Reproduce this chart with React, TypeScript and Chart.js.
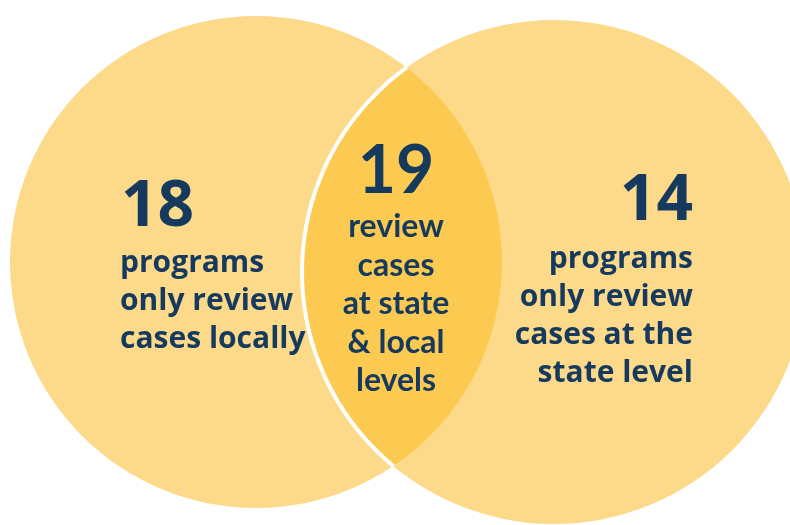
import React, { useEffect, useRef } from 'react';
import { Chart, registerables } from 'chart.js';

Chart.register(...registerables);

// ---- data ----
const setNames = ['Local only', 'State & local', 'State only'];
const setCounts = [18, 19, 14];
const leftLines = ['programs', 'only review', 'cases locally'];
const middleLines = ['review', 'cases', 'at state', '& local', 'levels'];
const rightLines = ['programs', 'only review', 'cases at the', 'state level'];

// ---- layout (data units of the hidden scales) ----
const circleX = [256, 554];
const circleY = [262, 272];
const circleR = [246, 252];

const LIGHT = '#FDDA8A';
const DARK = '#FDCA51';
const TEXT = '#163A5E';

const vennPlugin = {
  id: 'venn',
  beforeDatasetsDraw(chart: any) {
    const { ctx } = chart;
    const xs = chart.scales.x;
    const ys = chart.scales.y;
    const circ = (i: number) => {
      const x = xs.getPixelForValue(circleX[i]);
      const y = ys.getPixelForValue(circleY[i]);
      const r = xs.getPixelForValue(circleX[i] + circleR[i]) - x;
      return { x, y, r };
    };
    const a = circ(0);
    const b = circ(1);
    const path = (c: any) => {
      ctx.beginPath();
      ctx.arc(c.x, c.y, c.r, 0, Math.PI * 2);
      ctx.closePath();
    };
    ctx.save();
    ctx.fillStyle = LIGHT;
    path(a);
    ctx.fill();
    path(b);
    ctx.fill();
    // intersection
    ctx.save();
    path(a);
    ctx.clip();
    ctx.fillStyle = DARK;
    path(b);
    ctx.fill();
    ctx.restore();
    // white outline of right circle
    ctx.save();
    path(a);
    ctx.clip();
    ctx.strokeStyle = '#FFFFFF';
    ctx.lineWidth = 4;
    path(b);
    ctx.stroke();
    ctx.restore();
    ctx.restore();
  },
  afterDatasetsDraw(chart: any) {
    const { ctx } = chart;
    const xs = chart.scales.x;
    const ys = chart.scales.y;
    const X = (v: number) => xs.getPixelForValue(v);
    const Y = (v: number) => ys.getPixelForValue(v);
    ctx.save();
    ctx.fillStyle = TEXT;
    ctx.textBaseline = 'alphabetic';

    // left
    ctx.textAlign = 'left';
    ctx.font = '700 64px "Open Sans"';
    ctx.fillText(String(setCounts[0]), X(121), Y(226));
    ctx.font = '700 30px "Open Sans"';
    leftLines.forEach((t, i) => ctx.fillText(t, X(120), Y(272 + i * 38)));

    // middle
    ctx.textAlign = 'center';
    ctx.font = '700 66px Lato';
    ctx.fillText(String(setCounts[1]), X(396), Y(193));
    ctx.font = '700 32px Lato';
    middleLines.forEach((t, i) => ctx.fillText(t, X(396), Y(237 + i * 38.5)));

    // right
    ctx.textAlign = 'right';
    ctx.font = '700 64px "Open Sans"';
    ctx.fillText(String(setCounts[2]), X(693), Y(220));
    ctx.font = '700 30px "Open Sans"';
    rightLines.forEach((t, i) => ctx.fillText(t, X(693), Y(268 + i * 38)));
    ctx.restore();
  },
};

export default function App() {
  const ref = useRef<HTMLCanvasElement>(null);
  useEffect(() => {
    let chart: Chart | null = null;
    let cancelled = false;
    const make = () => {
      if (cancelled || !ref.current) return;
      chart = new Chart(ref.current, {
        type: 'scatter',
        data: {
          datasets: setNames.slice(0, 2).map((n, i) => ({
            label: n,
            data: [{ x: circleX[i], y: circleY[i] }],
            pointRadius: 0,
          })),
        },
        options: {
          animation: false,
          responsive: false,
          devicePixelRatio: 1,
          layout: { padding: 0 },
          plugins: { legend: { display: false }, tooltip: { enabled: false } },
          scales: {
            x: { type: 'linear', min: 0, max: 790, display: false },
            y: { type: 'linear', min: 0, max: 525, reverse: true, display: false },
          },
        },
        plugins: [vennPlugin],
      } as any);
    };
    const fonts: any = (document as any).fonts;
    if (fonts && fonts.load) {
      Promise.all([
        fonts.load('700 30px "Open Sans"'),
        fonts.load('700 30px Lato'),
      ]).then(make, make);
    } else make();
    return () => {
      cancelled = true;
      if (chart) chart.destroy();
    };
  }, []);
  return (
    <div style={{ position: 'absolute', left: 0, top: 0, width: 790, height: 525, background: '#fff' }}>
      <canvas ref={ref} width={790} height={525} style={{ display: 'block' }} />
    </div>
  );
}
